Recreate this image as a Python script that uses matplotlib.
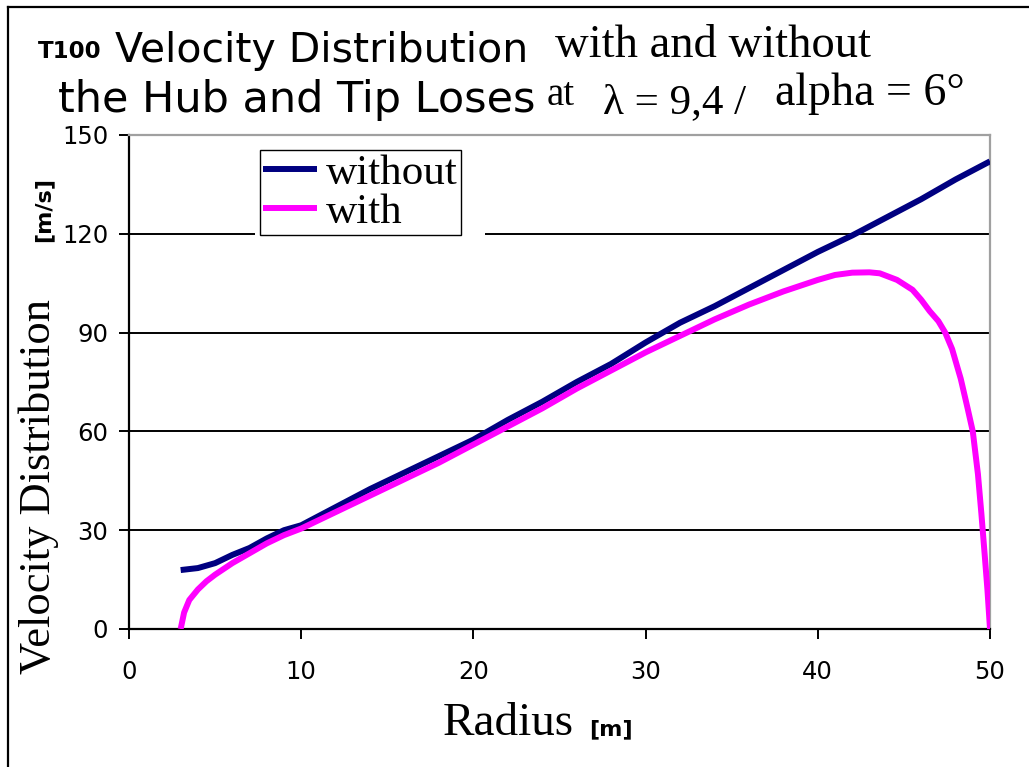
import matplotlib
matplotlib.use("Agg")
import matplotlib.pyplot as plt
from matplotlib.lines import Line2D
from matplotlib.patches import Rectangle

# ── data ─────────────────────────────────────────────────
r_without = [3, 4, 5, 6, 7, 8, 9, 10, 12, 14, 16, 18, 20, 22, 24, 26, 28,
             30, 32, 34, 36, 38, 40, 42, 44, 46, 48, 50]
v_without = [17.9, 18.5, 20, 22.5, 24.6, 27.5, 30, 31.5, 37, 42.5, 47.5, 52.5,
             57.5, 63.5, 69, 75, 80.5, 87, 93, 98, 103.5, 109, 114.5, 119.5,
             125, 130.5, 136.5, 142]

r_with = [3, 3.2, 3.5, 4, 4.5, 5, 6, 7, 8, 9, 10, 12, 14, 16, 18, 20, 22, 24,
          26, 28, 30, 32, 34, 36, 38, 40, 41, 42, 43, 43.6, 44.6, 45.5, 46,
          46.5, 47, 47.4, 47.8, 48.3, 48.7, 49, 49.3, 49.5, 49.7, 49.85, 50]
v_with = [0, 5, 8.8, 12, 14.5, 16.5, 20, 23, 26, 28.5, 30.5, 35.5, 40.5, 45.5,
          50.5, 56, 61.5, 67, 73, 78.5, 84, 89, 94, 98.5, 102.5, 106, 107.5,
          108.2, 108.3, 108, 106, 103, 100, 96.5, 93.5, 90, 85, 76, 67, 60, 47,
          35, 22, 12, 0]

x_ticks = [0, 10, 20, 30, 40, 50]
y_ticks = [0, 30, 60, 90, 120, 150]

W, H = 1029, 767


def fx(px):
    return px / W


def fy(py):
    return 1 - py / H


SANS = "DejaVu Sans"
SERIF = "Liberation Serif"

fig = plt.figure(figsize=(W / 100, H / 100), dpi=100, facecolor="white")
ax = fig.add_axes([fx(129), fy(629), (990 - 129) / W, (629 - 135) / H])

ax.plot(r_without, v_without, color="#000080", lw=4.3, solid_capstyle="butt",
        label="without", zorder=3)
ax.plot(r_with, v_with, color="#FF00FF", lw=4.3, solid_capstyle="butt",
        label="with", zorder=3)

ax.set_xlim(0, 50)
ax.set_ylim(0, 150)
ax.set_xticks(x_ticks)
ax.set_yticks(y_ticks)
ax.grid(axis="y", color="black", lw=1.4)
ax.tick_params(axis="both", direction="out", length=7, width=1.4,
               labelsize=17.5, color="black")
ax.tick_params(axis="x", pad=15)
ax.tick_params(axis="y", pad=8)
for lab in ax.get_xticklabels() + ax.get_yticklabels():
    lab.set_family(SANS)
for s in ["left", "bottom"]:
    ax.spines[s].set_linewidth(1.6)
for s in ["top", "right"]:
    ax.spines[s].set_color("#a0a0a0")
    ax.spines[s].set_linewidth(1.6)

# white area behind the legend hides the 120 gridline there
ax.add_patch(Rectangle((0.146, 0.775), 0.268, 0.2, transform=ax.transAxes,
                       facecolor="white", edgecolor="none", zorder=1.8))

leg = ax.legend(loc="upper left", bbox_to_anchor=((260 - 129) / 861, (629 - 150) / 494),
                borderaxespad=0, frameon=True, fancybox=False, framealpha=1,
                edgecolor="black", prop={"family": SERIF, "size": 31},
                handlelength=1.25, handletextpad=0.2, borderpad=0.08,
                labelspacing=0.0)
leg.get_frame().set_linewidth(1.0)

# ── title pieces ──────────────────────────────────────────
fig.text(fx(38), fy(58), "T100", family=SANS, weight="bold", size=16.5,
         va="baseline", ha="left")
fig.text(fx(115), fy(62), "Velocity Distribution", family=SANS, size=29.5,
         va="baseline", ha="left")
fig.text(fx(555), fy(57), "with and without", family=SERIF, size=33.5,
         va="baseline", ha="left")
fig.text(fx(58), fy(112), "the Hub and Tip Loses", family=SANS, size=31,
         va="baseline", ha="left")
fig.text(fx(547), fy(105), "at", family=SERIF, size=28,
         va="baseline", ha="left")
fig.text(fx(603), fy(113), "λ = 9,4 /", family=SERIF, size=31,
         va="baseline", ha="left")
fig.text(fx(775), fy(105), "alpha = 6°", family=SERIF, size=33,
         va="baseline", ha="left")

# ── axis titles ───────────────────────────────────────────
fig.text(fx(50), fy(674), "Velocity Distribution", family=SERIF, size=32,
         rotation=90, rotation_mode="anchor", ha="left", va="baseline")
fig.text(fx(49), fy(242), "[m/s]", family=SANS, weight="bold", size=16,
         rotation=90, rotation_mode="anchor", ha="left", va="baseline")
fig.text(fx(443), fy(735), "Radius", family=SERIF, size=34,
         va="baseline", ha="left")
fig.text(fx(589), fy(735), "[m]", family=SANS, weight="bold", size=16,
         va="baseline", ha="left")

# outer frame (top and left edges)
fig.add_artist(Line2D([fx(8), 1], [fy(7), fy(7)], color="black", lw=1.6))
fig.add_artist(Line2D([fx(8), fx(8)], [0, fy(7)], color="black", lw=1.6))

fig.savefig("out.png", dpi=100, facecolor="white")
